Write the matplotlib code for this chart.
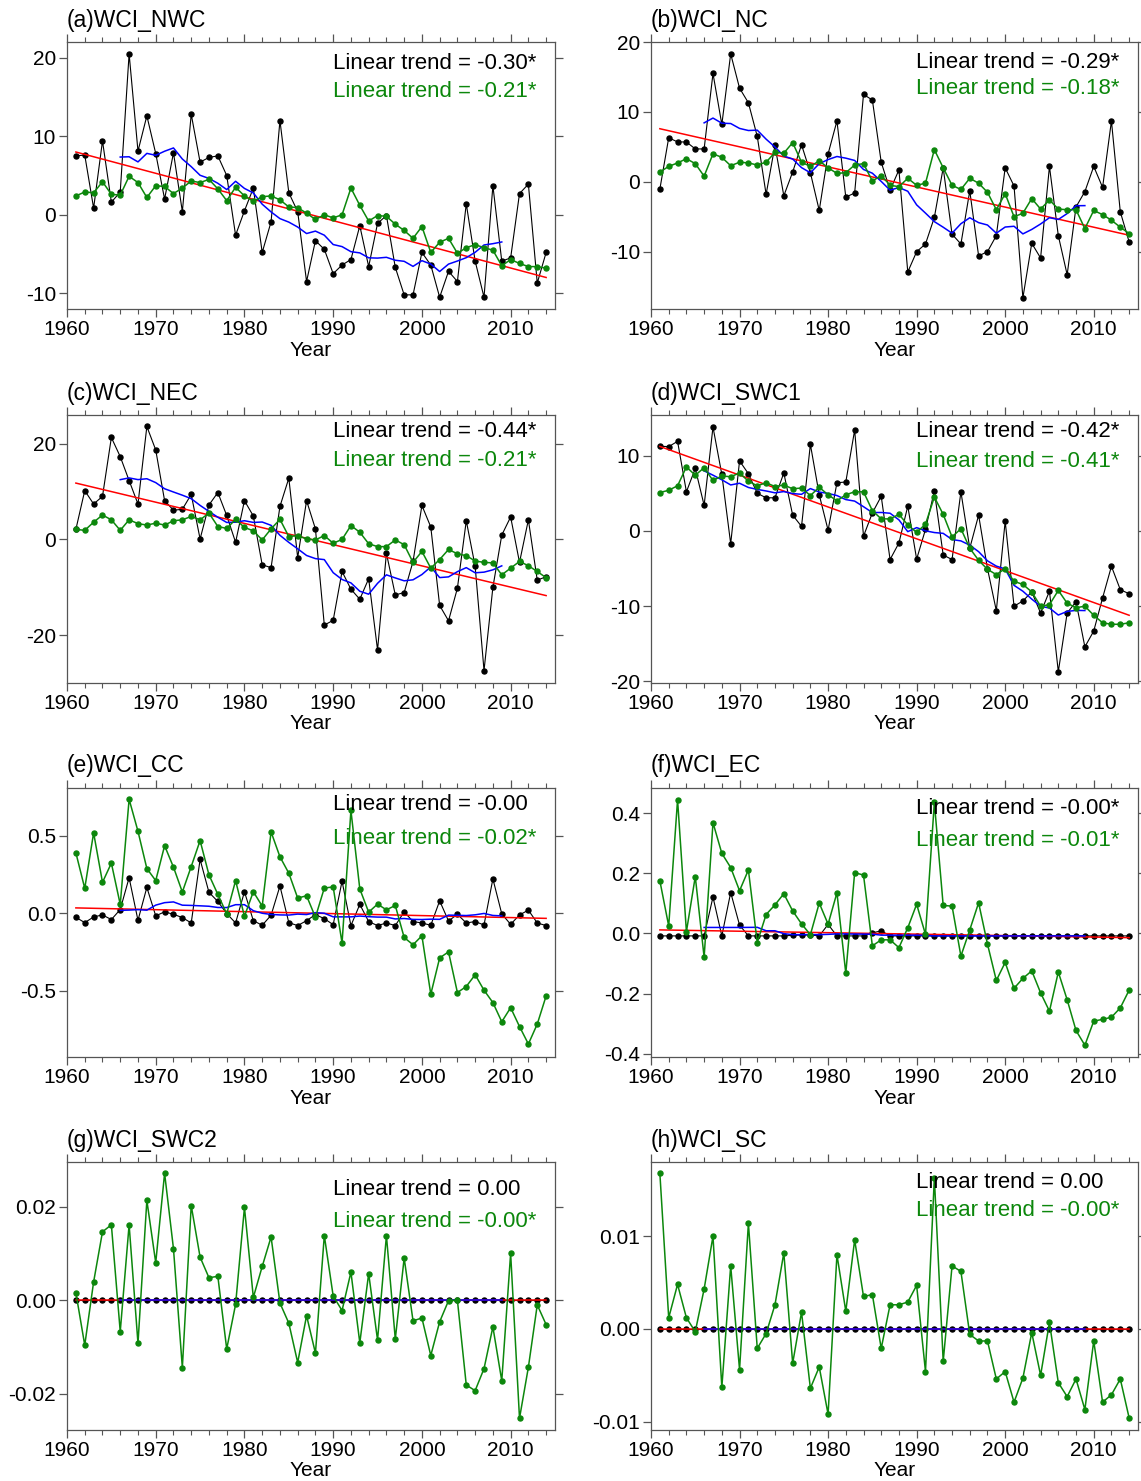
import numpy as np
import matplotlib
matplotlib.use("Agg")
import matplotlib.pyplot as plt
from matplotlib.ticker import MultipleLocator, FormatStrFormatter, FixedLocator

plt.rcParams['font.family'] = ['Liberation Sans', 'DejaVu Sans']
plt.rcParams['axes.unicode_minus'] = False

years = list(range(1961, 2015))

titles = ["(a)WCI_NWC", "(b)WCI_NC", "(c)WCI_NEC", "(d)WCI_SWC1",
          "(e)WCI_CC", "(f)WCI_EC", "(g)WCI_SWC2", "(h)WCI_SC"]

trend_black = ["-0.30*", "-0.29*", "-0.44*", "-0.42*", "-0.00", "-0.00*", "0.00", "0.00"]
trend_green = ["-0.21*", "-0.18*", "-0.21*", "-0.41*", "-0.02*", "-0.01*", "-0.00*", "-0.00*"]

a_black = [7.5, 7.6, 0.85, 9.4, 1.6, 2.9, 20.5, 8.1, 12.6, 7.8,
           2.0, 7.9, 0.4, 12.8, 6.7, 7.3, 7.5, 5.0, -2.6, 0.5,
           3.4, -4.8, -0.9, 12.0, 2.8, 0.4, -8.5, -3.3, -4.4, -7.5,
           -6.4, -5.7, -1.4, -6.6, -1.1, -0.1, -6.7, -10.2, -10.2, -4.8,
           -6.4, -10.5, -7.2, -8.5, 1.4, -5.9, -10.5, 3.7, -5.9, -5.5,
           2.7, 3.9, -8.7, -4.8]
a_green = [2.4, 2.9, 2.8, 4.2, 2.6, 2.5, 4.9, 4.1, 2.2, 3.7,
           3.6, 2.7, 3.4, 4.3, 4.1, 4.5, 3.3, 1.8, 3.5, 2.4,
           1.7, 2.3, 2.4, 1.9, 1.0, 0.9, 0.2, -0.6, 0.0, -0.4,
           0.0, 3.4, 1.2, -0.8, -0.1, -0.2, -1.2, -2.0, -3.0, -1.5,
           -4.8, -3.5, -3.0, -4.9, -4.2, -3.8, -4.2, -4.5, -6.5, -5.7,
           -6.2, -6.6, -6.6, -6.8]

b_black = [-1.05, 6.3, 5.7, 5.7, 4.7, 4.7, 15.5, 8.2, 18.3, 13.4,
           11.3, 6.5, -1.8, 5.2, -2.0, 1.4, 5.3, 1.3, -4.1, 4.0,
           8.7, -2.2, -1.6, 12.5, 11.7, 2.8, -1.2, 1.7, -12.9, -10.0,
           -8.9, -5.1, 2.0, -7.5, -8.9, -1.3, -10.6, -10.0, -7.7, 2.0,
           -0.6, -16.6, -8.8, -10.9, 2.2, -7.7, -13.3, -3.6, -1.4, 2.2,
           -0.8, 8.7, -4.3, -8.6]
b_green = [1.4, 2.2, 2.7, 3.3, 2.6, 0.8, 4.0, 3.5, 2.3, 2.8,
           2.7, 2.4, 2.8, 4.2, 4.1, 5.6, 2.8, 2.2, 3.0, 2.0,
           1.2, 1.3, 2.4, 2.6, 0.1, 0.9, -0.5, -0.7, 0.5, -0.5,
           -0.2, 4.6, 2.0, -0.5, -1.1, 0.5, -0.2, -1.5, -4.0, -1.7,
           -5.0, -4.5, -2.4, -3.9, -2.6, -3.9, -4.0, -4.0, -6.7, -4.1,
           -4.7, -5.5, -6.5, -7.4]

c_black = [2.1, 10.2, 7.4, 9.0, 21.3, 17.3, 12.3, 7.4, 23.6, 18.7,
           8.1, 6.1, 6.3, 9.4, 0.1, 7.2, 9.8, 5.0, -0.6, 8.1,
           4.9, -5.3, -5.9, 6.9, 12.8, -3.8, 8.1, 2.2, -17.9, -16.9,
           -6.7, -10.4, -12.5, -8.2, -23.1, -2.9, -11.6, -11.1, -4.6, 7.1,
           2.6, -13.8, -17.0, -10.2, 3.9, -5.6, -27.4, -10.0, 0.9, 4.7,
           -4.8, 4.1, -8.5, -7.8]
c_green = [2.1, 1.9, 3.6, 5.1, 4.1, 1.9, 4.1, 3.3, 3.0, 3.4,
           3.0, 3.9, 4.1, 4.8, 4.1, 5.5, 2.7, 2.3, 4.2, 2.5,
           1.8, -0.1, 2.2, 4.2, 0.6, 0.8, 0.1, -0.1, 0.8, -0.8,
           0.0, 2.9, 1.5, -0.9, -1.5, -1.5, -0.1, -1.1, -4.8, -2.5,
           -6.0, -4.2, -2.1, -3.0, -3.4, -4.5, -4.8, -4.9, -7.4, -6.0,
           -4.6, -5.5, -6.7, -8.0]

d_black = [11.25, 11.2, 11.9, 5.2, 8.3, 3.4, 13.8, 7.5, -1.7, 9.3,
           7.6, 5.0, 4.4, 4.4, 7.7, 2.1, 0.6, 11.5, 4.8, 0.1,
           6.4, 6.5, 13.4, -0.7, 2.4, 4.6, -3.8, -1.6, 3.3, -3.75,
           0.2, 5.3, -3.2, -3.8, 5.2, -2.3, 2.1, -5.0, -10.6, 1.3,
           -10.0, -9.3, -8.1, -10.9, -8.0, -18.7, -10.9, -9.4, -15.4, -13.3,
           -8.9, -4.7, -7.8, -8.35]
d_green = [5.1, 5.4, 6.0, 8.5, 7.4, 8.4, 6.7, 7.3, 7.2, 7.7,
           6.6, 6.0, 6.4, 5.9, 6.1, 5.6, 5.7, 4.7, 5.8, 4.8,
           4.0, 4.8, 5.2, 5.2, 2.7, 1.6, 1.6, 2.2, 0.8, -0.2,
           0.9, 4.5, 2.2, -0.8, 0.3, -2.3, -3.9, -5.1, -5.8, -5.0,
           -6.7, -7.1, -8.1, -10.0, -9.8, -7.9, -9.6, -10.2, -10.0, -11.2,
           -12.2, -12.4, -12.4, -12.2]

e_black = [-0.026, -0.061, -0.024, -0.011, -0.041, 0.024, 0.23, -0.046, 0.167, -0.017,
           0.009, -0.007, -0.028, -0.063, 0.348, 0.135, 0.076, -0.002, -0.063, 0.139,
           -0.048, -0.078, -0.013, 0.176, -0.061, -0.080, -0.048, -0.009, -0.035, -0.074,
           0.207, -0.080, 0.057, -0.054, -0.080, -0.063, -0.080, 0.009, -0.054, -0.063,
           -0.078, 0.080, -0.050, -0.007, -0.063, -0.054, -0.076, 0.222, -0.004, -0.072,
           -0.011, 0.020, -0.063, -0.080]
e_green = [0.391, 0.161, 0.520, 0.200, 0.324, 0.057, 0.737, 0.530, 0.289, 0.211,
           0.437, 0.298, 0.137, 0.302, 0.470, 0.248, 0.122, -0.004, 0.211, -0.020,
           0.139, 0.046, 0.526, 0.365, 0.259, 0.098, 0.113, -0.026, 0.163, 0.170,
           -0.193, 0.665, 0.157, 0.007, 0.059, 0.022, 0.050, -0.157, -0.204, -0.146,
           -0.524, -0.289, -0.250, -0.513, -0.474, -0.398, -0.498, -0.578, -0.702, -0.611,
           -0.733, -0.846, -0.717, -0.535]

f_black = [-0.008, -0.008, -0.008, -0.008, -0.008, -0.008, 0.121, -0.008, 0.136, 0.028,
           -0.008, -0.008, -0.008, -0.008, -0.008, -0.006, -0.005, -0.005, -0.008, 0.030,
           -0.008, -0.008, -0.008, -0.008, 0.002, 0.009, -0.008, -0.008, -0.008, -0.008,
           -0.008, -0.008, -0.008, -0.008, -0.008, -0.008, -0.008, -0.008, -0.008, -0.008,
           -0.008, -0.008, -0.008, -0.008, -0.008, -0.008, -0.008, -0.008, -0.008, -0.008,
           -0.008, -0.008, -0.008, -0.008]
f_green = [0.175, 0.025, 0.444, 0.006, 0.189, -0.079, 0.368, 0.266, 0.219, 0.142,
           0.211, -0.030, 0.063, 0.095, 0.132, 0.075, 0.032, -0.004, 0.101, 0.031,
           0.135, -0.132, 0.202, 0.194, -0.041, -0.021, -0.021, -0.047, 0.019, 0.097,
           -0.003, 0.435, 0.093, 0.091, -0.075, 0.012, 0.102, -0.035, -0.156, -0.096,
           -0.182, -0.149, -0.124, -0.197, -0.258, -0.128, -0.220, -0.322, -0.371, -0.291,
           -0.285, -0.278, -0.247, -0.188]

g_black = [0.0, 0.0, 0.0, 0.0, 0.0, 0.0, 0.0, 0.0, 0.0, 0.0,
           0.0, 0.0, 0.0, 0.0, 0.0, 0.0, 0.0, 0.0, 0.0, 0.0,
           0.0, 0.0, 0.0, 0.0, 0.0, 0.0, 0.0, 0.0, 0.0, 0.0,
           0.0, 0.0, 0.0, 0.0, 0.0, 0.0, 0.0, 0.0, 0.0, 0.0,
           0.0, 0.0, 0.0, 0.0, 0.0, 0.0, 0.0, 0.0, 0.0, 0.0,
           0.0, 0.0, 0.0, 0.0]
g_green = [0.0016, -0.0096, 0.0039, 0.0146, 0.0161, -0.0067, 0.0161, -0.0092, 0.0213, 0.0080,
           0.0271, 0.0110, -0.0144, 0.0202, 0.0092, 0.0048, 0.0051, -0.0104, -0.0009, 0.0198,
           0.0006, 0.0072, 0.0135, -0.0006, -0.0049, -0.0133, -0.0033, -0.0113, 0.0138, 0.0009,
           -0.0022, 0.0060, -0.0091, 0.0057, -0.0085, 0.0138, -0.0083, 0.0090, -0.0044, -0.0038,
           -0.0118, -0.0046, -0.0001, 0.0000, -0.0181, -0.0193, -0.0146, -0.0057, -0.0172, 0.0100,
           -0.0252, -0.0143, -0.0010, -0.0052]

h_black = [0.0, 0.0, 0.0, 0.0, 0.0, 0.0, 0.0, 0.0, 0.0, 0.0,
           0.0, 0.0, 0.0, 0.0, 0.0, 0.0, 0.0, 0.0, 0.0, 0.0,
           0.0, 0.0, 0.0, 0.0, 0.0, 0.0, 0.0, 0.0, 0.0, 0.0,
           0.0, 0.0, 0.0, 0.0, 0.0, 0.0, 0.0, 0.0, 0.0, 0.0,
           0.0, 0.0, 0.0, 0.0, 0.0, 0.0, 0.0, 0.0, 0.0, 0.0,
           0.0, 0.0, 0.0, 0.0]
h_green = [0.0168, 0.0012, 0.0048, 0.0012, -0.0003, 0.0043, 0.0100, -0.0063, 0.0068, -0.0044,
           0.0114, -0.0021, -0.0005, 0.0026, 0.0082, -0.0037, 0.0018, -0.0064, -0.0041, -0.0092,
           0.0080, 0.0019, 0.0096, 0.0035, 0.0037, -0.0021, 0.0026, 0.0026, 0.0029, 0.0047,
           -0.0046, 0.0163, -0.0035, 0.0068, 0.0062, -0.0006, -0.0013, -0.0013, -0.0054, -0.0046,
           -0.0079, -0.0053, -0.0004, -0.0050, 0.0007, -0.0058, -0.0073, -0.0054, -0.0087, -0.0013,
           -0.0079, -0.0071, -0.0054, -0.0096]

blacks = [a_black, b_black, c_black, d_black, e_black, f_black, g_black, h_black]
greens = [a_green, b_green, c_green, d_green, e_green, f_green, g_green, h_green]

# styling / layout per panel
ylims = [(-12, 22), (-18.2, 20), (-30, 26), (-20.2, 15.4),
         (-0.93, 0.81), (-0.41, 0.483), (-0.0277, 0.0295), (-0.0109, 0.018)]
yticks = [[-10, 0, 10, 20], [-10, 0, 10, 20], [-20, 0, 20], [-20, -10, 0, 10],
          [-0.5, 0.0, 0.5], [-0.4, -0.2, 0.0, 0.2, 0.4], [-0.02, 0.0, 0.02], [-0.01, 0.0, 0.01]]
yfmts = ['%d', '%d', '%d', '%d', '%.1f', '%.1f', '%.2f', '%.2f']
text_y = [(0.918, 0.813), (0.925, 0.824), (0.937, 0.83), (0.937, 0.825),
          (0.937, 0.814), (0.922, 0.803), (0.896, 0.777), (0.922, 0.818)]

W, H = 1141, 1481
cols = [(67, 555), (651, 1138)]
rows = [(42, 309), (415, 683), (788, 1057), (1162, 1430)]

fig = plt.figure(figsize=(W / 100, H / 100), dpi=100)
GREEN = '#0c870c'
FRAME = '#555555'

for i in range(8):
    r, c = divmod(i, 2)
    x0, x1 = cols[c]
    t0, t1 = rows[r]
    ax = fig.add_axes([x0 / W, 1 - t1 / H, (x1 - x0) / W, (t1 - t0) / H])

    yrs = np.array(years, dtype=float)
    blk = np.array(blacks[i], dtype=float)
    grn = np.array(greens[i], dtype=float)

    ax.plot(yrs, blk, color='black', lw=0.8, marker='o', ms=3.6, zorder=2)
    coef = np.polyfit(yrs, blk, 1)
    ax.plot(yrs, np.polyval(coef, yrs), color='red', lw=1.1, zorder=3)
    rm = np.convolve(blk, np.ones(11) / 11, mode='valid')
    ax.plot(yrs[5:-5], rm, color='blue', lw=1.1, zorder=4)
    ax.plot(yrs, grn, color=GREEN, lw=1.1, marker='o', ms=3.6, zorder=5)

    ax.set_xlim(1960, 2015)
    ax.set_ylim(*ylims[i])
    ax.xaxis.set_major_locator(FixedLocator([1960, 1970, 1980, 1990, 2000, 2010]))
    ax.xaxis.set_minor_locator(MultipleLocator(2))
    ax.yaxis.set_major_locator(FixedLocator(yticks[i]))
    ax.yaxis.set_major_formatter(FormatStrFormatter(yfmts[i]))
    ax.tick_params(axis='both', which='both', direction='out', top=True, right=True,
                   color=FRAME, labelsize=15, pad=2)
    ax.tick_params(axis='both', which='major', length=6, width=0.9)
    ax.tick_params(axis='x', which='minor', length=3.5, width=0.8)
    for sp in ax.spines.values():
        sp.set_color(FRAME)
        sp.set_linewidth(0.9)

    ax.set_xlabel('Year', fontsize=15, labelpad=1)
    ax.text(0.0, 1.082, titles[i], transform=ax.transAxes, ha='left', va='center',
            fontsize=16.5)
    ax.text(0.545, text_y[i][0], 'Linear trend = ' + trend_black[i], transform=ax.transAxes,
            ha='left', va='center', fontsize=16, color='black', zorder=10)
    ax.text(0.545, text_y[i][1], 'Linear trend = ' + trend_green[i], transform=ax.transAxes,
            ha='left', va='center', fontsize=16, color=GREEN, zorder=10)

fig.savefig('out.png', dpi=100)
